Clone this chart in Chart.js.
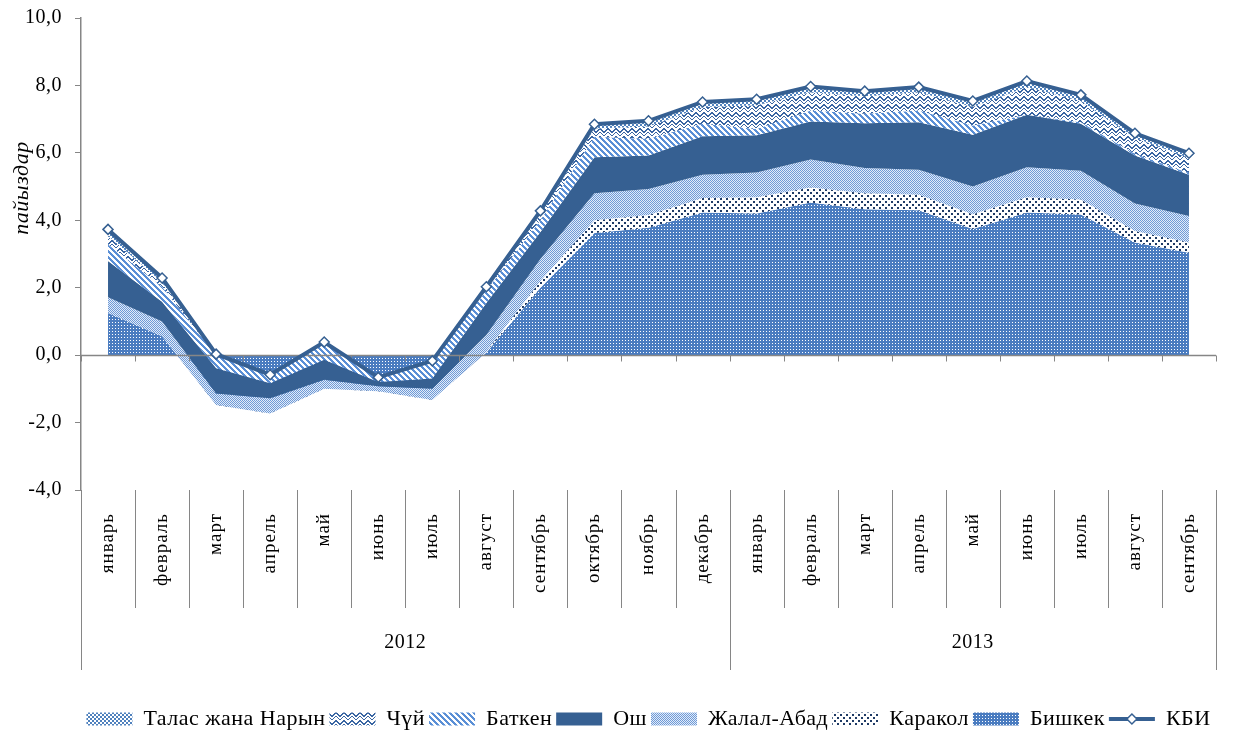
<!DOCTYPE html>
<html><head><meta charset="utf-8">
<script src="https://cdn.jsdelivr.net/npm/chart.js@4.4.1/dist/chart.umd.min.js"></script>
<style>html,body{margin:0;padding:0;background:#fff;overflow:hidden}</style>
</head><body>
<canvas id="c" width="1234" height="736"></canvas>
<script>
// ---------- data ----------
const categories = ['январь','февраль','март','апрель','май','июнь','июль','август','сентябрь','октябрь','ноябрь','декабрь',
                    'январь','февраль','март','апрель','май','июнь','июль','август','сентябрь'];
const yearLabels = ['2012','2013'];
const yearCounts = [12, 9];
const yTicks = [-4, -2, 0, 2, 4, 6, 8, 10];

const bishkek = [1.25, 0.56, -1.46, -1.70, -0.98, -1.05, -1.30, 0.08, 2.00, 3.62, 3.78, 4.23, 4.20, 4.53, 4.33, 4.30, 3.74, 4.23, 4.17, 3.34, 3.04];
const karakol = [0.00, 0.00, -0.02, -0.03, -0.02, -0.02, -0.03, 0.02, 0.20, 0.38, 0.38, 0.43, 0.48, 0.44, 0.47, 0.46, 0.44, 0.45, 0.45, 0.34, 0.30];
const jalalAbad = [0.47, 0.44, 0.34, 0.45, 0.27, 0.15, 0.33, 0.50, 0.65, 0.80, 0.77, 0.69, 0.74, 0.83, 0.75, 0.74, 0.82, 0.89, 0.85, 0.82, 0.79];
const osh = [1.07, 0.58, 0.75, 0.45, 0.59, 0.12, 0.31, 0.95, 0.80, 1.07, 0.99, 1.14, 1.10, 1.13, 1.33, 1.41, 1.54, 1.56, 1.39, 1.42, 1.22];
const batken = [0.50, 0.45, 0.39, 0.25, 0.48, 0.14, 0.50, 0.37, 0.35, 0.60, 0.50, 0.37, 0.19, 0.33, 0.28, 0.35, 0.27, 0.00, 0.05, 0.05, 0.05];
const chui = [0.25, 0.13, 0.02, 0.00, 0.04, 0.00, 0.01, 0.06, 0.18, 0.25, 0.36, 0.50, 0.70, 0.54, 0.52, 0.54, 0.55, 0.82, 0.63, 0.48, 0.45];
const talasNaryn = [0.19, 0.13, 0.01, 0.00, 0.01, 0.00, 0.01, 0.05, 0.10, 0.13, 0.17, 0.15, 0.18, 0.17, 0.15, 0.15, 0.18, 0.18, 0.18, 0.13, 0.14];
const kbi = [3.73, 2.29, 0.03, -0.58, 0.39, -0.66, -0.17, 2.03, 4.28, 6.85, 6.95, 7.51, 7.59, 7.97, 7.83, 7.95, 7.54, 8.13, 7.72, 6.58, 5.99];

// ---------- patterns ----------
function makePattern(w, h, bg, fg, cells) {
  const c = document.createElement('canvas'); c.width = w; c.height = h;
  const g = c.getContext('2d');
  g.fillStyle = bg; g.fillRect(0, 0, w, h);
  g.fillStyle = fg;
  cells.forEach(([x, y, cw, ch]) => g.fillRect(x, y, cw || 1, ch || 1));
  return document.getElementById('c').getContext('2d').createPattern(c, 'repeat');
}
const pBishkek = makePattern(3, 3, '#4A7CC0', '#ffffff', [[1,1]]);
const pKarakol = makePattern(6, 6, '#ffffff', '#1F3B66', [[0,0,2,2],[3,3,2,2]]);
const pJalal = makePattern(2, 2, '#E2EBF8', '#6E9AD7', [[0,0],[1,1]]);
const stripeCells = []; for (let x = 0; x < 6; x++) for (let y = 0; y < 6; y++) if (((x - y) % 6 + 6) % 6 < 3) stripeCells.push([x, y]);
const pBatken = makePattern(6, 6, '#ffffff', '#5A8FD6', stripeCells);
const zigCells = []; for (let x = 0; x < 8; x++) { const y = x < 4 ? x : 7 - x; zigCells.push([x, y]); zigCells.push([x, (y + 4) % 8]); zigCells.push([x, (y + 1) % 8]); }
const pChui = makePattern(8, 8, '#ffffff', '#3A66A3', zigCells);
const pTalas = makePattern(4, 4, '#ffffff', '#4F81BD', [[0,0,2,2],[2,2,2,2]]);
const oshColor = '#366092';

// cumulative stacking (bottom -> top)
const layers = [bishkek, karakol, jalalAbad, osh, batken, chui, talasNaryn];
const cum = []; let run = categories.map(() => 0);
layers.forEach(arr => { run = run.map((v, i) => +(v + arr[i]).toFixed(3)); cum.push(run.slice()); });

function area(label, data, bg, fill) {
  return { label, data, backgroundColor: bg, borderColor: 'rgba(0,0,0,0)', borderWidth: 0,
           pointRadius: 0, pointHoverRadius: 0, fill, tension: 0 };
}
const datasets = [
  area('Талас жана Нарын', cum[6], pTalas, '+1'),
  area('Чүй', cum[5], pChui, '+1'),
  area('Баткен', cum[4], pBatken, '+1'),
  area('Ош', cum[3], oshColor, '+1'),
  area('Жалал-Абад', cum[2], pJalal, '+1'),
  area('Каракол', cum[1], pKarakol, '+1'),
  area('Бишкек', cum[0], pBishkek, 'origin'),
  { label: 'КБИ', data: kbi, borderColor: '#366092', borderWidth: 4, backgroundColor: '#ffffff',
    pointStyle: 'rectRot', pointRadius: 5, pointBorderWidth: 1.5, pointBorderColor: '#366092',
    pointBackgroundColor: '#ffffff', fill: false, tension: 0, order: -1 }
];

const GRAY = '#868686';
const SERIF = '"Liberation Serif", "Times New Roman", serif';

const spacingPlugin = {
  id: 'spacing',
  beforeUpdate(chart) { chart.ctx.letterSpacing = '0.5px'; },
  beforeDraw(chart) { chart.ctx.letterSpacing = '0.5px'; }
};

const axisPlugin = {
  id: 'axisPlugin',
  beforeDatasetDraw(chart, args) {
    if (args.index !== 7) return;
    const ctx = chart.ctx, x = chart.scales.x, y = chart.scales.y, a = chart.chartArea;
    const y0 = Math.round(y.getPixelForValue(0)) + 0.5;
    ctx.save();
    ctx.strokeStyle = GRAY; ctx.lineWidth = 1.5;
    ctx.beginPath(); ctx.moveTo(a.left, y0); ctx.lineTo(a.right, y0); ctx.stroke();
    ctx.lineWidth = 1;
    ctx.beginPath();
    for (let k = 0; k <= categories.length; k++) {
      let px;
      if (k === 0) px = a.left; else if (k === categories.length) px = a.right;
      else px = (x.getPixelForValue(k - 1) + x.getPixelForValue(k)) / 2;
      px = Math.round(px) + 0.5;
      ctx.moveTo(px, y0); ctx.lineTo(px, y0 + 6);
    }
    ctx.stroke();
    ctx.restore();
  },
  afterDraw(chart) {
    const ctx = chart.ctx, x = chart.scales.x, a = chart.chartArea;
    ctx.save();
    ctx.strokeStyle = GRAY; ctx.lineWidth = 1;
    ctx.beginPath();
    const bounds = [];
    for (let k = 0; k <= categories.length; k++) {
      let px;
      if (k === 0) px = a.left; else if (k === categories.length) px = a.right;
      else px = (x.getPixelForValue(k - 1) + x.getPixelForValue(k)) / 2;
      bounds.push(px);
    }
    const yearBounds = [0]; yearCounts.reduce((s, n) => { yearBounds.push(s + n); return s + n; }, 0);
    bounds.forEach((px, k) => {
      const major = yearBounds.includes(k);
      const p = Math.round(px) + 0.5;
      ctx.moveTo(p, a.bottom); ctx.lineTo(p, major ? a.bottom + 180 : a.bottom + 118);
    });
    ctx.stroke();
    ctx.fillStyle = '#000'; ctx.font = '19px ' + SERIF; ctx.letterSpacing = '1px';
    categories.forEach((lab, i) => {
      const px = x.getPixelForValue(i);
      ctx.save(); ctx.translate(px, a.bottom + 23); ctx.rotate(-Math.PI / 2);
      ctx.textAlign = 'right'; ctx.textBaseline = 'middle';
      ctx.fillText(lab, 0, 0); ctx.restore();
    });
    ctx.letterSpacing = '0.5px';
    ctx.font = '20px ' + SERIF; ctx.textAlign = 'center'; ctx.textBaseline = 'middle';
    yearLabels.forEach((lab, j) => {
      const cx = (bounds[yearBounds[j]] + bounds[yearBounds[j + 1]]) / 2;
      ctx.fillText(lab, cx, a.bottom + 153);
    });
    ctx.save(); ctx.translate(22, 188); ctx.rotate(-Math.PI / 2);
    ctx.font = 'italic 22px ' + SERIF; ctx.textAlign = 'center'; ctx.textBaseline = 'middle';
    ctx.fillText('пайыздар', 0, 0); ctx.restore();
    const lg = chart.legend;
    const idx = lg.legendItems.findIndex(it => it.text === 'КБИ');
    if (idx >= 0) {
      const hb = lg.legendHitBoxes[idx];
      const bw = lg.options.labels.boxWidth;
      const cy = hb.top + hb.height / 2;
      ctx.strokeStyle = '#366092'; ctx.lineWidth = 4;
      ctx.beginPath(); ctx.moveTo(hb.left, cy); ctx.lineTo(hb.left + bw, cy); ctx.stroke();
      const cx = hb.left + bw / 2, r = 5;
      ctx.beginPath(); ctx.moveTo(cx, cy - r); ctx.lineTo(cx + r, cy); ctx.lineTo(cx, cy + r); ctx.lineTo(cx - r, cy); ctx.closePath();
      ctx.fillStyle = '#fff'; ctx.fill(); ctx.lineWidth = 1.5; ctx.stroke();
    }
    ctx.restore();
  }
};

new Chart(document.getElementById('c'), {
  type: 'line',
  data: { labels: categories, datasets },
  plugins: [spacingPlugin, axisPlugin],
  options: {
    responsive: false, animation: false,
    layout: { padding: { top: 18, right: 18, left: 0, bottom: -4 } },
    interaction: { mode: null },
    plugins: {
      tooltip: { enabled: false },
      filler: { propagate: false },
      legend: {
        position: 'bottom', fullSize: false,
        labels: {
          boxWidth: 46, boxHeight: 13, padding: 4, color: '#000',
          font: { family: SERIF, size: 22 },
          sort: (a, b) => a.datasetIndex - b.datasetIndex,
          generateLabels(chart) {
            const items = Chart.defaults.plugins.legend.labels.generateLabels(chart);
            items.forEach(it => {
              if (it.text === 'КБИ') { it.fillStyle = 'rgba(0,0,0,0)'; it.strokeStyle = 'rgba(0,0,0,0)'; it.lineWidth = 0; }
              else { it.lineWidth = 0; }
            });
            return items;
          }
        }
      }
    },
    scales: {
      x: {
        type: 'category', offset: true,
        grid: { display: false }, border: { display: false },
        ticks: { display: false },
        afterFit(s) { s.height = 214; }
      },
      y: {
        min: -4, max: 10,
        afterBuildTicks(s) { s.ticks = yTicks.map(v => ({ value: v })); },
        ticks: { color: '#000', padding: 13, font: { family: SERIF, size: 20 },
                 callback: v => v.toFixed(1).replace('.', ',') },
        grid: { drawOnChartArea: false, drawTicks: true, tickLength: 6, color: GRAY, lineWidth: 1 },
        border: { display: true, color: GRAY, width: 1.5 },
        afterFit(s) { s.width = 81; s.paddingTop = 0; s.paddingBottom = 0; }
      }
    }
  }
});
</script>
</body></html>
